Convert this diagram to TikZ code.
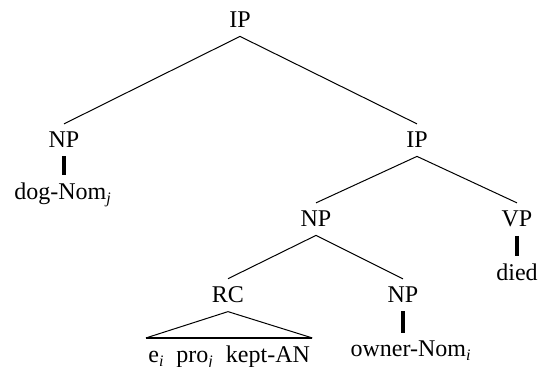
\documentclass[tikz,border=0pt]{standalone}
\usepackage{fontspec}
\setmainfont{Liberation Serif}
\newcommand{\idx}[1]{\textsubscript{\itshape #1}}
\begin{document}
\begin{tikzpicture}[x=0.5pt,y=-0.5pt,font=\fontsize{12}{14}\selectfont,
  cat/.style={anchor=base,inner sep=4pt},
  branch/.style={line width=0.5pt},
  leaf/.style={line width=1.6pt}]
\useasboundingbox (0,0) rectangle (538,367);
\node[cat] (ip) at (240,28) {IP};
\node[cat] (np1) at (64,148) {NP};
\node[cat] (dog) at (63,200) {dog-Nom\idx{j}};
\node[cat] (ip2) at (417,148) {IP};
\node[cat] (np2) at (316,227) {NP};
\node[cat] (vp) at (517,227) {VP};
\node[cat] (died) at (517,281) {died};
\node[cat] (rc) at (228,303) {RC};
\node[cat] (np3) at (403,303) {NP};
\node[cat] (owner) at (411,357) {owner-Nom\idx{i}};
\node[cat,anchor=base west,inner xsep=1pt] (rctext) at (146,363) {e\idx{i}\ \ pro\idx{j}\ \ kept-AN};
% branches
\draw[branch] (ip.south) -- (np1.north);
\draw[branch] (ip.south) -- (ip2.north);
\draw[branch] (ip2.south) -- (np2.north);
\draw[branch] (ip2.south) -- (vp.north);
\draw[branch] (np2.south) -- (rc.north);
\draw[branch] (np2.south) -- (np3.north);
% leaves
\draw[leaf] (np1.south) -- (np1.south |- dog.north);
\draw[leaf] (vp.south) -- (vp.south |- died.north);
\draw[leaf] (np3.south) -- (np3.south |- owner.north);
% triangle
\draw[branch] (rctext.north west) -- (rc.south) -- (rctext.north east);
\draw[line width=0.9pt] (rctext.north west) -- (rctext.north east);
\end{tikzpicture}
\end{document}
